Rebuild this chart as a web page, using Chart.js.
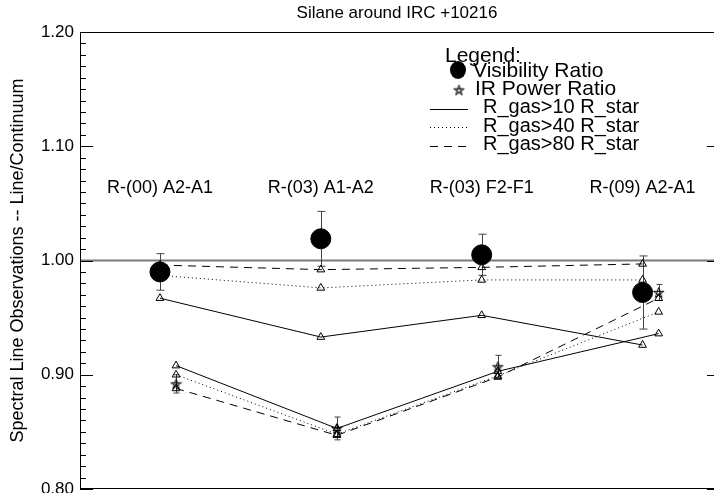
<!DOCTYPE html>
<html>
<head>
<meta charset="utf-8">
<script src="https://cdn.jsdelivr.net/npm/chart.js@4.4.1/dist/chart.umd.min.js"></script>
<style>
  body { margin: 0; background: #fff; }
</style>
</head>
<body>
<canvas id="silaneChart" width="714" height="493"></canvas>
<script>
// Transitions along the x axis, IR points sit a little to the right
const categories = ["R-(00) A2-A1", "R-(03) A1-A2", "R-(03) F2-F1", "R-(09) A2-A1"];
const irOffset = 0.1;

// Visibility ratio (filled circles) with errors
const visRatio = [0.990, 1.019, 1.005, 0.972];
const visErr = [0.016, 0.024, 0.018, 0.032];
// model curves at the visibility points
const visModel10 = [0.967, 0.933, 0.952, 0.926];
const visModel40 = [0.987, 0.976, 0.983, 0.983];
const visModel80 = [0.996, 0.992, 0.994, 0.997];

// IR power ratio (stars) with errors
const irRatio = [0.892, 0.853, 0.907, 0.972];
const irErr = [0.008, 0.010, 0.010, 0.007];
// model curves at the IR points
const irModel10 = [0.908, 0.853, 0.903, 0.936];
const irModel40 = [0.900, 0.848, 0.899, 0.955];
const irModel80 = [0.888, 0.847, 0.898, 0.967];

const yTicks = [0.80, 0.90, 1.00, 1.10, 1.20];

const FONT = "'Liberation Sans', Arial, Helvetica, sans-serif";

const visPts = vals => vals.map((v, i) => ({ x: i, y: v }));
const irPts = vals => vals.map((v, i) => ({ x: i + irOffset, y: v }));

// hollow five point star for the IR points
const starImg = document.createElement("canvas");
starImg.width = 13;
starImg.height = 13;
(function () {
    const sc = starImg.getContext("2d");
    sc.strokeStyle = "#000";
    sc.lineWidth = 1;
    sc.beginPath();
    for (let k = 0; k <= 5; k++) {
        const a = -Math.PI / 2 + k * 4 * Math.PI / 5;
        const px = 6.5 + 5.5 * Math.cos(a);
        const py = 7 + 5.5 * Math.sin(a);
        if (k === 0) sc.moveTo(px, py); else sc.lineTo(px, py);
    }
    sc.stroke();
})();

const modelSet = (label, pts, dash) => ({
    label: label,
    data: pts,
    showLine: true,
    borderColor: "#000",
    borderWidth: 1,
    borderDash: dash,
    pointStyle: "triangle",
    pointRadius: 4.5,
    pointBorderWidth: 1,
    pointBorderColor: "#000",
    pointBackgroundColor: "rgba(0,0,0,0)",
});

// error bars, reference line, axes, labels and the hand made legend
const decorations = {
    id: "decorations",
    beforeDatasetsDraw(chart) {
        const { ctx, chartArea: ca, scales: { x, y } } = chart;
        ctx.save();
        // 1.00 reference line
        ctx.strokeStyle = "#7a7a7a";
        ctx.lineWidth = 2;
        ctx.beginPath();
        ctx.moveTo(ca.left, y.getPixelForValue(1.0));
        ctx.lineTo(ca.right, y.getPixelForValue(1.0));
        ctx.stroke();

        const errBars = (vals, errs, dx, cap) => {
            ctx.strokeStyle = "#444";
            ctx.lineWidth = 1;
            vals.forEach((v, i) => {
                const px = Math.round(x.getPixelForValue(i + dx)) + 0.5;
                const top = y.getPixelForValue(v + errs[i]);
                const bot = y.getPixelForValue(v - errs[i]);
                ctx.beginPath();
                ctx.moveTo(px, top); ctx.lineTo(px, bot);
                ctx.moveTo(px - cap, top); ctx.lineTo(px + cap, top);
                ctx.moveTo(px - cap, bot); ctx.lineTo(px + cap, bot);
                ctx.stroke();
            });
        };
        errBars(visRatio, visErr, 0, 4);
        errBars(irRatio, irErr, irOffset, 3);
        ctx.restore();
    },
    afterDraw(chart) {
        const { ctx, chartArea: ca, scales: { x, y } } = chart;
        ctx.save();
        ctx.setLineDash([]);
        ctx.fillStyle = "#000";
        // box lines
        ctx.fillRect(ca.left, ca.top, ca.right - ca.left, 1);
        ctx.fillRect(ca.left, ca.top, 1, ca.bottom - ca.top);
        ctx.fillRect(ca.left, ca.bottom - 1, ca.right - ca.left, 1);
        // left ticks: minor every 0.01, major every 0.1
        for (let k = 0; k <= 40; k++) {
            const py = Math.round(y.getPixelForValue(0.8 + k * 0.01));
            const len = k % 10 === 0 ? 13 : 6;
            ctx.fillRect(ca.left, py, len, 1);
        }
        // right side, major ticks only
        yTicks.forEach(v => {
            const py = Math.round(y.getPixelForValue(v));
            ctx.fillRect(ca.right - 7, py, 7, 1);
        });

        // title
        ctx.font = "17px " + FONT;
        ctx.textAlign = "center";
        ctx.textBaseline = "alphabetic";
        ctx.fillText("Silane around IRC +10216", (ca.left + ca.right) / 2, 18);

        // transition names
        ctx.font = "18px " + FONT;
        categories.forEach((c, i) => {
            ctx.fillText(c, x.getPixelForValue(i), 193);
        });

        // legend
        ctx.textAlign = "left";
        ctx.font = "21px " + FONT;
        ctx.fillText("Legend:", 445, 62);
        ctx.fillText("Visibility Ratio", 473, 77);
        ctx.fillText("IR Power Ratio", 475, 95);
        ctx.font = "20px " + FONT;
        ctx.fillText("R_gas>10 R_star", 483, 113);
        ctx.fillText("R_gas>40 R_star", 483, 132);
        ctx.fillText("R_gas>80 R_star", 483, 150);

        ctx.beginPath();
        ctx.ellipse(458, 70, 8, 9, 0, 0, Math.PI * 2);
        ctx.fill();
        ctx.drawImage(starImg, 459 - 6.5, 90 - 6.5);

        ctx.strokeStyle = "#000";
        ctx.lineWidth = 1;
        const sample = (py, dash) => {
            ctx.setLineDash(dash);
            ctx.beginPath();
            ctx.moveTo(430, py); ctx.lineTo(468, py);
            ctx.stroke();
        };
        sample(109.5, []);
        sample(127.5, [1, 3]);
        sample(146.5, [8, 6]);
        ctx.setLineDash([]);
        ctx.restore();
    }
};

new Chart(document.getElementById("silaneChart"), {
    type: "scatter",
    data: {
        datasets: [
            {
                label: "Visibility Ratio",
                data: visPts(visRatio),
                pointStyle: "circle",
                pointRadius: 10,
                pointBackgroundColor: "#000",
                pointBorderColor: "#000",
                showLine: false,
            },
            {
                label: "IR Power Ratio",
                data: irPts(irRatio),
                pointStyle: starImg,
                showLine: false,
            },
            modelSet("R_gas>10 R_star", visPts(visModel10), []),
            modelSet("R_gas>40 R_star", visPts(visModel40), [1, 3]),
            modelSet("R_gas>80 R_star", visPts(visModel80), [8, 6]),
            modelSet("IR R_gas>10 R_star", irPts(irModel10), []),
            modelSet("IR R_gas>40 R_star", irPts(irModel40), [1, 3]),
            modelSet("IR R_gas>80 R_star", irPts(irModel80), [8, 6]),
        ],
    },
    options: {
        responsive: false,
        animation: false,
        devicePixelRatio: 1,
        events: [],
        layout: { autoPadding: false, padding: { top: 32, right: 0, bottom: 4, left: 0 } },
        plugins: {
            legend: { display: false },
            tooltip: { enabled: false },
        },
        scales: {
            x: {
                type: "linear",
                min: -0.497,
                max: 3.444,
                display: false,
            },
            y: {
                min: 0.8,
                max: 1.2,
                afterFit: scale => {
                    scale.width = 80;
                    scale.paddingTop = 0;
                    scale.paddingBottom = 0;
                },
                afterBuildTicks: scale => { scale.ticks = yTicks.map(v => ({ value: v })); },
                grid: { display: false, drawTicks: false },
                border: { display: false },
                ticks: {
                    padding: 6,
                    color: "#000",
                    font: { family: FONT, size: 17 },
                    callback: v => v.toFixed(2),
                },
                title: {
                    display: true,
                    text: "Spectral Line Observations -- Line/Continuum",
                    color: "#000",
                    font: { family: FONT, size: 18 },
                    padding: { top: 7, bottom: 0 },
                },
            },
        },
    },
    plugins: [decorations],
});
</script>
</body>
</html>
